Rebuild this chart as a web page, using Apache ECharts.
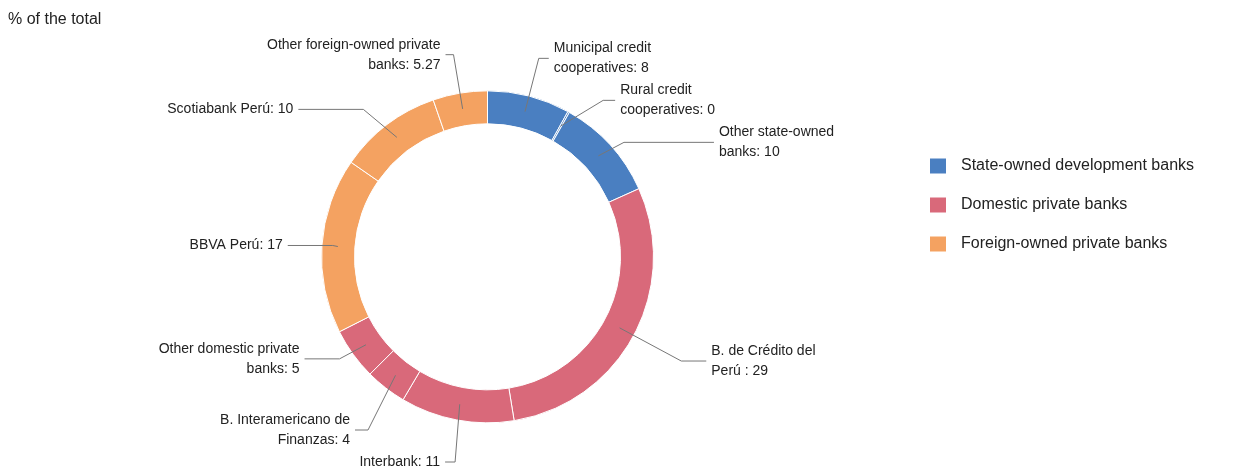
<!DOCTYPE html>
<html>
<head>
<meta charset="UTF-8">
<title>% of the total</title>
<script src="https://cdn.jsdelivr.net/npm/echarts@6/dist/echarts.min.js"></script>
<style>
  body { margin: 0; background: #fff; }
  #chart { width: 1250px; height: 473px; }
</style>
</head>
<body>
<div id="chart"></div>
<script>
// slices, clockwise from 12 o'clock
const labels = [
  'Municipal credit\ncooperatives',
  'Rural credit\ncooperatives',
  'Other state-owned\nbanks',
  'B. de Crédito del\nPerú ',
  'Interbank',
  'B. Interamericano de\nFinanzas',
  'Other domestic private\nbanks',
  'BBVA Perú',
  'Scotiabank Perú',
  'Other foreign-owned private\nbanks'
];
const values = [8, 0, 10, 29, 11, 4, 5, 17, 10, 5.27];
const groupOf = [0, 0, 0, 1, 1, 1, 1, 2, 2, 2];
const groups = ['State-owned development banks', 'Domestic private banks', 'Foreign-owned private banks'];
const groupColors = ['#4a7fc1', '#d9697a', '#f4a261'];

// label line lengths per slice [radial, horizontal]
const lineLen = [[55, 10], [35, 12], [20, 90], [70, 25], [25, 10], [70, 13], [25, 35], [10, 45], [35, 65], [55, 8]];

const font = 'Liberation Sans, Arial, sans-serif';
const center = ['39%', '54.3%'];

const chart = echarts.init(document.getElementById('chart'));
chart.setOption({
  backgroundColor: '#fff',
  animation: false,
  title: {
    text: '% of the total', left: 3, top: 7,
    textStyle: { fontFamily: font, fontSize: 16, fontWeight: 'normal', color: '#222' }
  },
  legend: {
    data: groups,
    orient: 'vertical', left: 925, top: 153,
    icon: 'rect', itemWidth: 16, itemHeight: 15, itemGap: 23,
    textStyle: { fontFamily: font, fontSize: 16, color: '#222', padding: [0, 0, 0, 10] }
  },
  series: [
    {
      // the ring
      type: 'pie', radius: [133, 166], center: center,
      startAngle: 90, clockwise: true, minAngle: 0.6,
      silent: true, z: 2,
      itemStyle: { borderColor: '#fff', borderWidth: 1 },
      label: { show: false }, labelLine: { show: false },
      data: labels.map((n, i) => ({
        name: n, value: values[i],
        itemStyle: { color: groupColors[groupOf[i]] }
      }))
    },
    {
      // invisible pie so the label lines start in the middle of the ring
      type: 'pie', radius: [0, 150], center: center,
      startAngle: 90, clockwise: true, minAngle: 0.6,
      silent: true, z: 3,
      itemStyle: { color: 'rgba(0,0,0,0)' },
      label: {
        show: true, fontFamily: font, fontSize: 14, color: '#222', lineHeight: 20,
        formatter: p => p.name + ': ' + p.value
      },
      labelLine: { show: true, lineStyle: { color: '#777', width: 1 } },
      data: labels.map((n, i) => ({
        name: n, value: values[i],
        labelLine: { length: lineLen[i][0], length2: lineLen[i][1] }
      }))
    },
    {
      // legend entries for the three groups
      type: 'pie', radius: [0, 0], center: center, silent: true,
      label: { show: false }, labelLine: { show: false },
      data: groups.map((g, i) => ({ name: g, value: 1, itemStyle: { color: groupColors[i] } }))
    }
  ]
});
</script>
</body>
</html>
